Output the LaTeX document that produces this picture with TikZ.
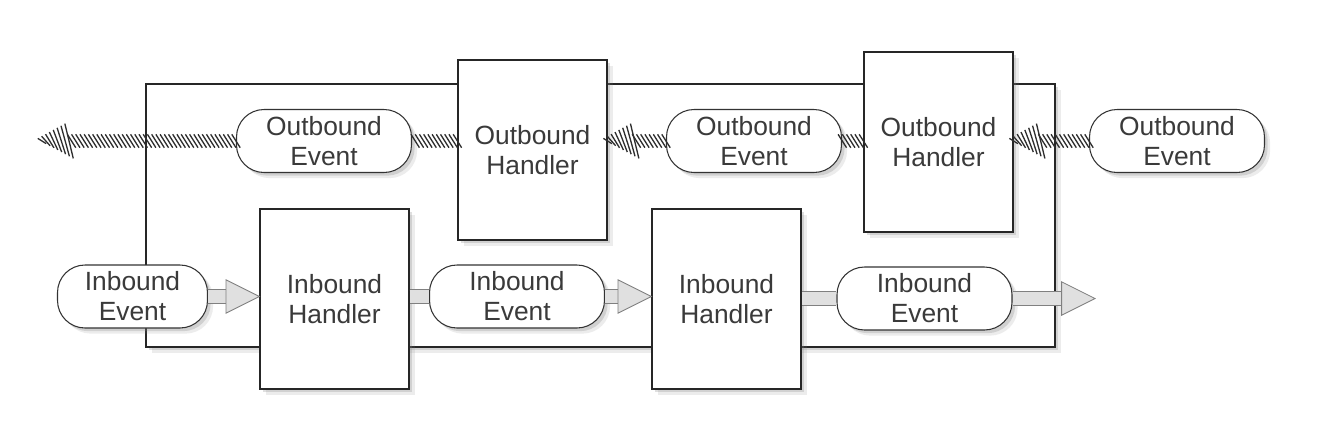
\documentclass[tikz,border=0pt]{standalone}
\usepackage{fontspec}
\setmainfont{Liberation Sans}
\usetikzlibrary{shadows,decorations.markings}
\definecolor{txtgray}{HTML}{3A3A3A}
\definecolor{arrowfill}{HTML}{E0E0E0}
\definecolor{arrowline}{HTML}{808080}
\definecolor{hatchgray}{HTML}{2E2E2E}
\newcommand{\diagfont}{\fontsize{15}{17}\selectfont}
\newcommand{\hatchstroke}[1]{\draw[hatchgray,line width=0.75pt] (-2.4pt,{#1}) -- (2.4pt,{-(#1)});}
\begin{document}
\begin{tikzpicture}[x=0.02cm,y=-0.02cm,
    boxshadow/.style={drop shadow={shadow xshift=3.2pt,shadow yshift=-3.2pt,opacity=0.15},
        drop shadow={shadow xshift=1.8pt,shadow yshift=-1.8pt,opacity=0.25}},
    pipebox/.style={draw=black!85,line width=0.7pt,fill=white,boxshadow,minimum width=18.18cm,minimum height=5.26cm},
    handler/.style={draw=black!85,line width=0.7pt,fill=white,boxshadow,minimum width=2.98cm,minimum height=3.6cm,align=center,text=txtgray,font=\diagfont},
    event/.style={draw=black!80,line width=0.6pt,fill=white,rounded corners=0.55cm,boxshadow,minimum width=3.5cm,minimum height=1.26cm,align=center,text=txtgray,font=\diagfont},
    inshaft/.style={preaction={draw=arrowline,line width=0.5pt,double=arrowfill,double distance=7pt,#1}},
    inshaft/.default={},
    inarrow/.style={inshaft={shorten >=18.5pt},
        postaction={decorate,decoration={markings,mark=at position 1 with
            {\filldraw[draw=arrowline,fill=arrowfill,line width=0.5pt] (0,0) -- (-19pt,9.5pt) -- (-19pt,-9.5pt) -- cycle;}}}},
    outshaft/.style={postaction={decorate,decoration={markings,
        mark=between positions 0 and 1 step 2.4pt with {\hatchstroke{3.8pt}}}}},
    outarrow/.style={postaction={decorate,decoration={markings,
        mark=between positions 0 and -16pt step 2.4pt with {\hatchstroke{3.8pt}},
        mark=at position 1 with {\foreach \k in {0,...,7} {\begin{scope}[xshift=-\k*2.2pt]\hatchstroke{1.5pt+\k*1.2pt}\end{scope}}}}}}
]
\useasboundingbox (0,0) rectangle (1330,444);
% pipeline
\node[pipebox] (pipeline) at (600.5,215.5) {};
% handlers
\node[handler] (oh1) at (532.5,150) {Outbound\\Handler};
\node[handler] (oh2) at (938.5,142) {Outbound\\Handler};
\node[handler] (ih1) at (334.5,299) {Inbound\\Handler};
\node[handler] (ih2) at (726.5,299) {Inbound\\Handler};
% events
\node[event] (oe1) at (324,141) {Outbound\\Event};
\node[event] (oe2) at (754,141) {Outbound\\Event};
\node[event] (oe3) at (1177,141) {Outbound\\Event};
\node[event,minimum width=3cm] (ie1) at (132.5,296.5) {Inbound\\Event};
\node[event] (ie2) at (517,296.5) {Inbound\\Event};
\node[event] (ie3) at (924.5,298.5) {Inbound\\Event};
\coordinate (inend) at (1095,298.5);
\coordinate (outend) at (42,141);
% inbound flow
\path[inarrow] (ie1.east) -- (ie1.east -| ih1.west);
\path[inshaft] (ie2.west -| ih1.east) -- (ie2.west);
\path[inarrow] (ie2.east) -- (ie2.east -| ih2.west);
\path[inshaft] (ie3.west -| ih2.east) -- (ie3.west);
\path[inarrow] (ie3.east) -- (inend);
% outbound flow
\path[outarrow] (oe3.west) -- (oe3.west -| oh2.east);
\path[outshaft] (oe2.east -| oh2.west) -- (oe2.east);
\path[outarrow] (oe2.west) -- (oe2.west -| oh1.east);
\path[outshaft] (oe1.east -| oh1.west) -- (oe1.east);
\path[outarrow] (oe1.west) -- (outend);
\end{tikzpicture}
\end{document}
